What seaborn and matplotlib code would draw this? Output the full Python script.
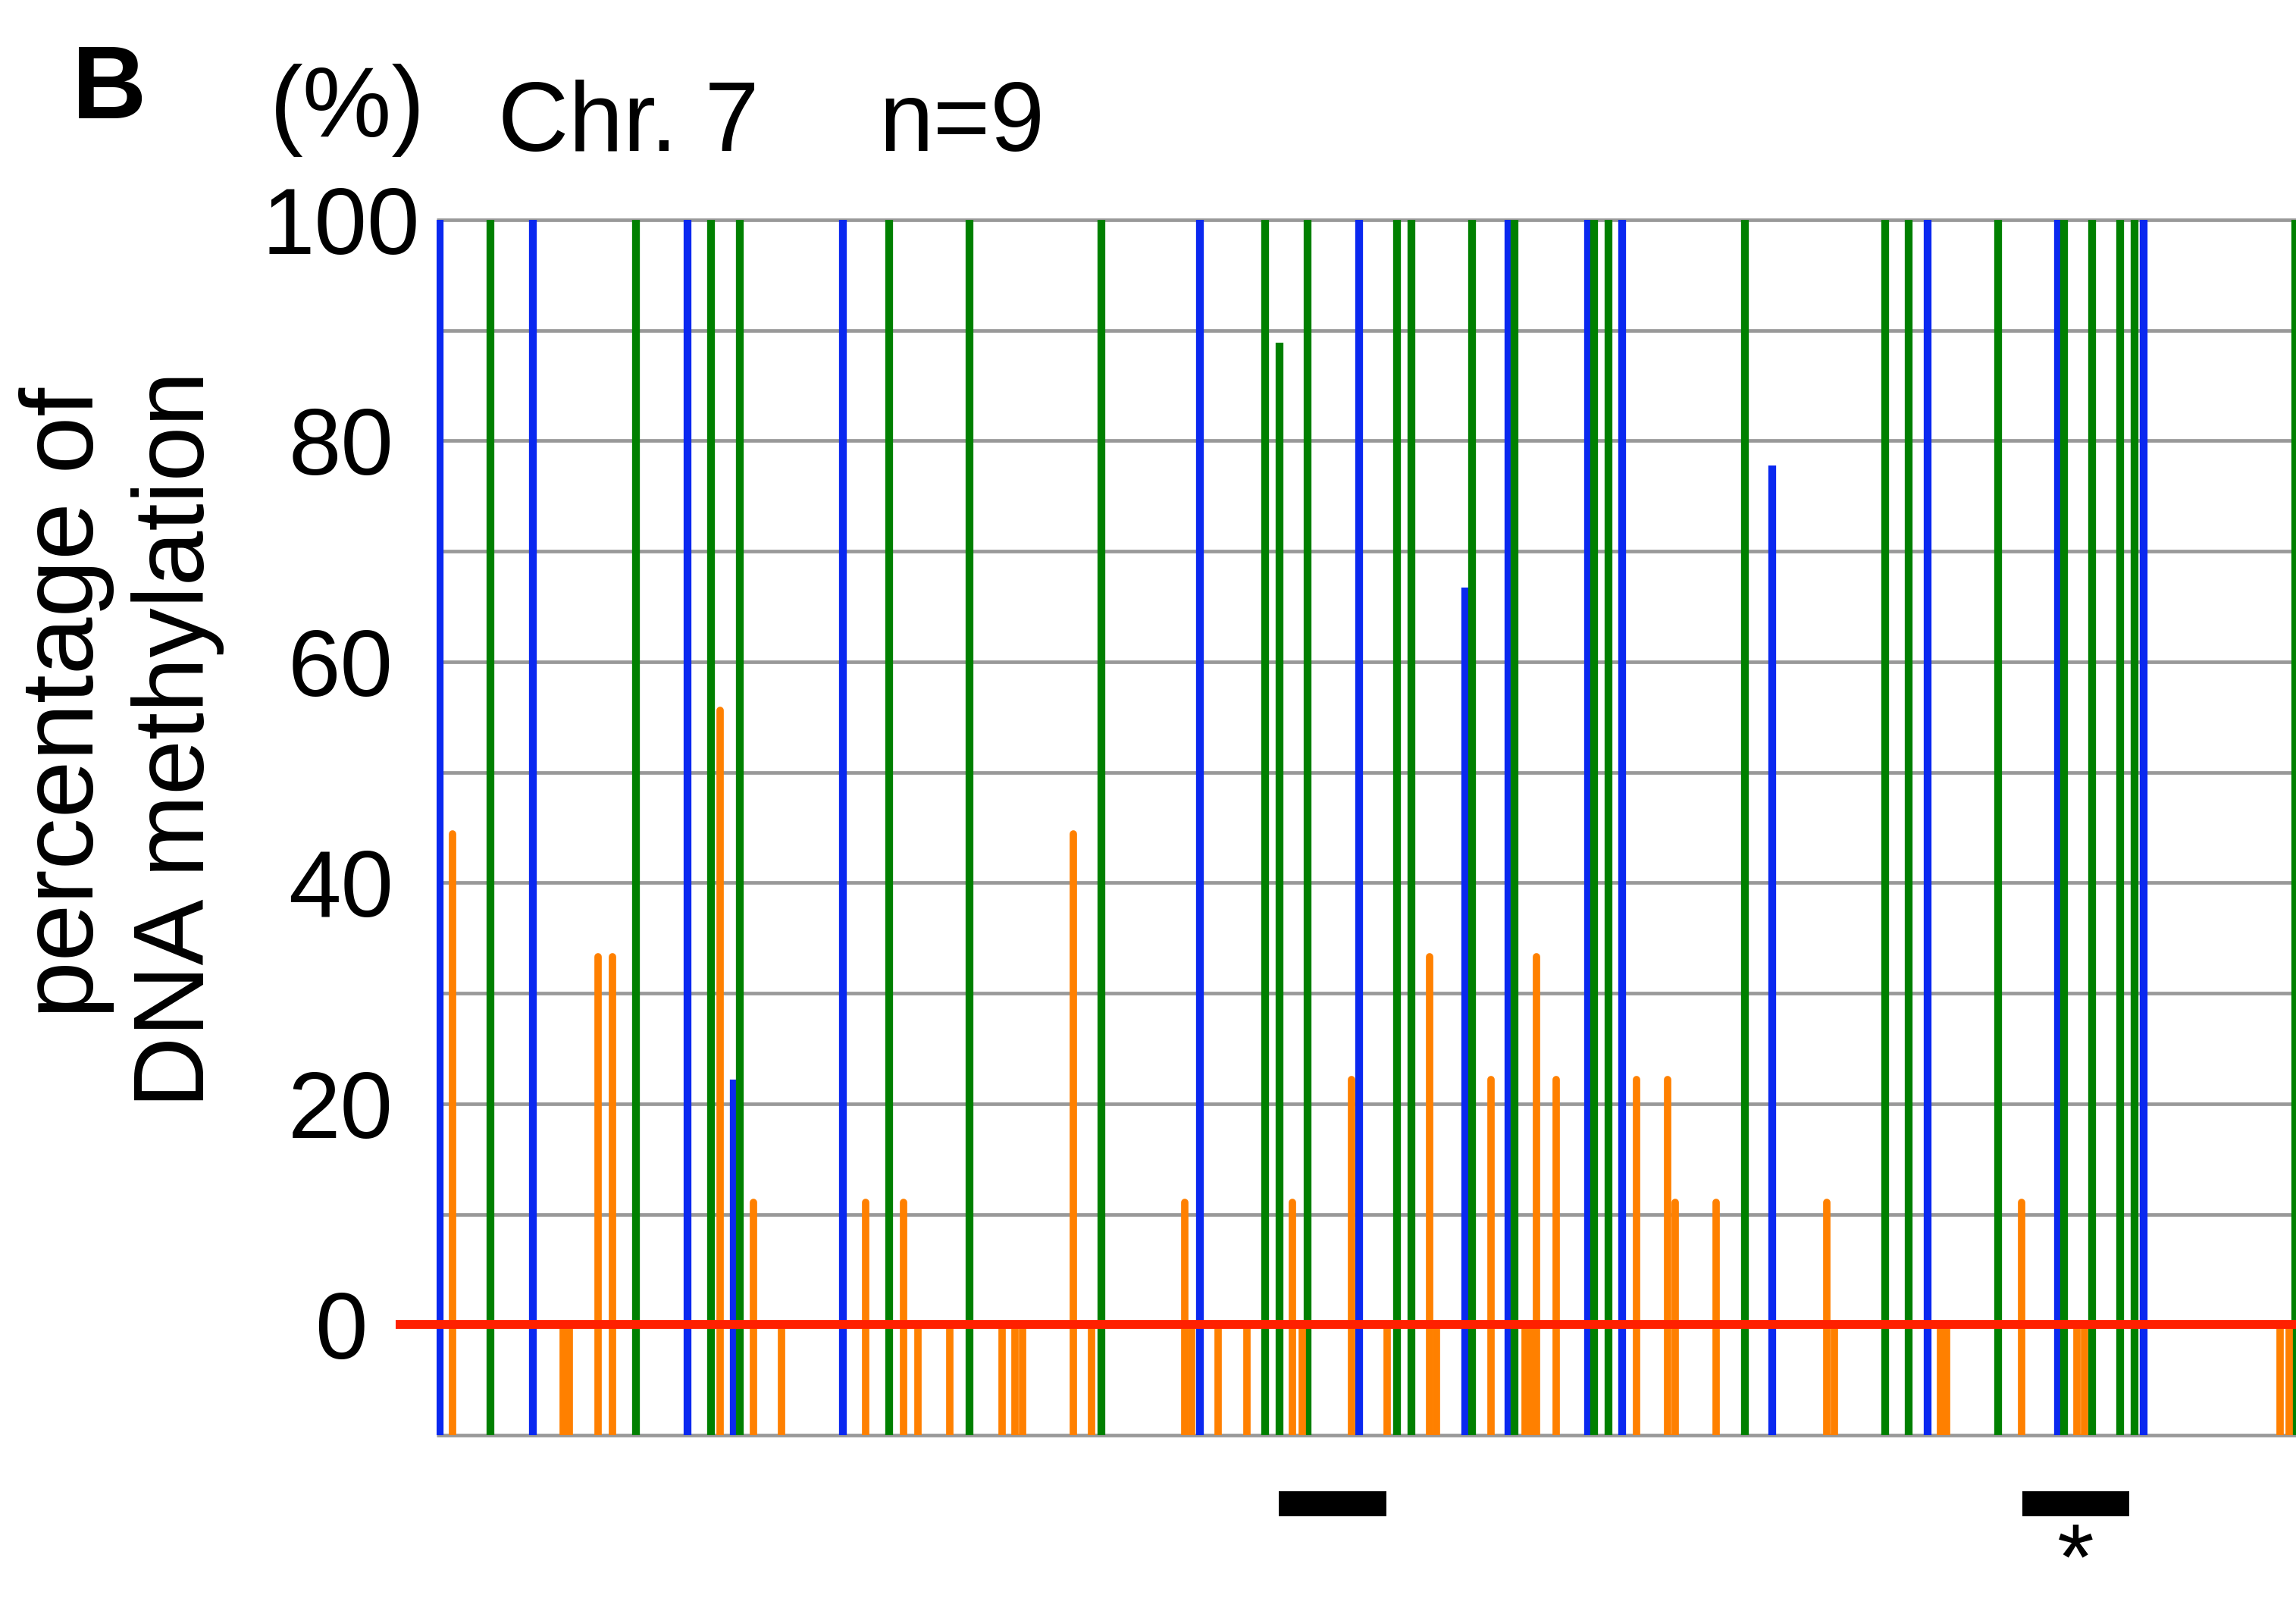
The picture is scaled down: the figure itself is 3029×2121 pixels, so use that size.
import matplotlib
matplotlib.use("Agg")
import matplotlib.pyplot as plt
import matplotlib.transforms as mtransforms
from matplotlib.patches import Rectangle
import seaborn as sns

# CpG site positions (relative units along the region) and % methylation
blue_pos = [4, 127, 331, 392, 536, 1007, 1217, 1357, 1414, 1519, 1564, 1762, 1967, 2139, 2252]
blue_val = [100, 100, 100, 22.2, 100, 100, 100, 66.7, 100, 100, 100, 77.8, 100, 100, 100]

green_pos = [71, 263, 362, 400, 597, 703, 877, 1093, 1112, 1149, 1267, 1286, 1366, 1422,
             1527, 1546, 1726, 1911, 1942, 2060, 2147, 2184, 2221, 2240, 2452]
green_val = [100, 100, 100, 100, 100, 100, 100, 100, 88.9, 100, 100, 100, 100, 100,
             100, 100, 100, 100, 100, 100, 100, 100, 100, 100, 100]

orange_pos = [21, 167, 175, 213, 232, 374, 418, 455, 566, 616, 635, 677, 746, 763, 773,
              840, 864, 987, 996, 1031, 1069, 1129, 1142, 1207, 1254, 1310, 1319, 1391,
              1436, 1443, 1451, 1477, 1583, 1624, 1634, 1688, 1834, 1844, 1984, 1992,
              2091, 2164, 2174, 2432, 2444]
orange_val = [44.4, 0, 0, 33.3, 33.3, 55.6, 11.1, 0, 11.1, 11.1, 0, 0, 0, 0, 0,
              44.4, 0, 11.1, 0, 0, 0, 11.1, 0, 22.2, 0, 33.3, 0, 22.2,
              0, 0, 33.3, 22.2, 22.2, 22.2, 11.1, 11.1, 11.1, 0, 0, 0,
              11.1, 0, 0, 0, 0]

# regions marked under the axis (start, end)
regions = [(1111, 1253), (2092, 2233)]
star_region = 1

ytick_vals = [0, 20, 40, 60, 80, 100]
grid_levels = list(range(-10, 101, 10))

sns.set_theme(style="white")
plt.rcParams["font.family"] = ["Liberation Sans", "DejaVu Sans"]
plt.rcParams["text.color"] = "black"
plt.rcParams["ytick.color"] = "black"
plt.rcParams["ytick.labelcolor"] = "black"

W, H = 3029, 2121
fig = plt.figure(figsize=(W / 100, H / 100), dpi=100)

ax_left, ax_right, ax_top, ax_bottom = 576, 3040, 290, 1893
ax = fig.add_axes([ax_left / W, 1 - ax_bottom / H,
                   (ax_right - ax_left) / W, (ax_bottom - ax_top) / H])
xmax = ax_right - ax_left
ax.set_xlim(0, xmax)
ax.set_ylim(-10, 100)
for s in ax.spines.values():
    s.set_visible(False)

# horizontal grid
ax.hlines(grid_levels, 0, xmax, colors="#999999", linewidth=3.4, zorder=1, clip_on=False)

bottom = -10
ax.vlines(blue_pos, bottom, blue_val, colors="#0a28f0", linewidth=7.4, zorder=2,
          capstyle="butt")
ax.vlines(green_pos, bottom, green_val, colors="#008000", linewidth=7.4, zorder=2,
          capstyle="butt")
ax.vlines(orange_pos, bottom, orange_val, colors="#ff8000", linewidth=7.0, zorder=2.5,
          capstyle="round")

# zero line
ax.plot([-54, xmax], [0, 0], color="#ff2000", linewidth=8.5, zorder=3, clip_on=False,
        solid_capstyle="butt")

ax.set_xticks([])
ax.set_yticks(ytick_vals)
ax.set_yticklabels([str(v) for v in ytick_vals])
ax.tick_params(axis="y", length=0, pad=91, labelsize=90, labelcolor="black")
for lab in ax.get_yticklabels():
    lab.set_horizontalalignment("center")

# marked regions below the axis
trans = mtransforms.blended_transform_factory(ax.transData, ax.transAxes)
y0 = (ax_bottom - 2000) / (ax_bottom - ax_top)
y1 = (ax_bottom - 1967) / (ax_bottom - ax_top)
for a, b in regions:
    ax.add_patch(Rectangle((a, y0), b - a, y1 - y0, transform=trans,
                           facecolor="black", edgecolor="none", clip_on=False))
sa, sb = regions[star_region]
ax.text((sa + sb) / 2, (ax_bottom - 2096) / (ax_bottom - ax_top), "*",
        transform=trans, ha="center", va="baseline", fontsize=90, clip_on=False)


def ftext(x, y, s, **kw):
    fig.text(x / W, 1 - y / H, s, va="baseline", ha="left", **kw)


ftext(95, 156, "B", fontsize=98, fontweight="bold")
ftext(356, 180, "(%)", fontsize=95)
ftext(657, 199, "Chr. 7", fontsize=93)
ftext(1159, 199, "n=9", fontsize=93)

fig.text(88 / W, 1 - 927 / H, "percentage of", rotation=90, ha="center", va="center",
         fontsize=98)
fig.text(234 / W, 1 - 975 / H, "DNA methylation", rotation=90, ha="center", va="center",
         fontsize=94)

fig.savefig("out.png", dpi=100)
